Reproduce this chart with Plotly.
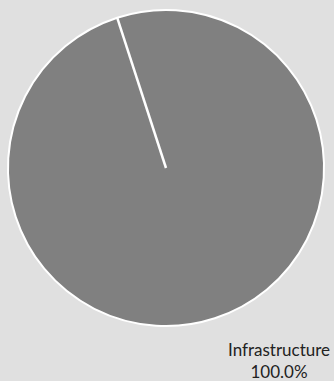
import math
import plotly.graph_objects as go

labels = ["Infrastructure"]
values = [100.0]
start_angle = -18  # degrees clockwise from 12 o'clock where the slice starts

fig = go.Figure(go.Pie(
    labels=labels,
    values=values,
    sort=False,
    rotation=start_angle,
    textinfo="none",
    hoverinfo="label+percent",
    marker=dict(colors=["#808080"], line=dict(color="#ffffff", width=2)),
    showlegend=False,
    domain=dict(x=[0, 1], y=[0, 1]),
))

# radial seam where the single slice starts and ends
theta = math.radians(start_angle)
fig.add_shape(
    type="line", xref="paper", yref="paper",
    x0=0.5, y0=0.5,
    x1=0.5 + 0.5 * math.sin(theta), y1=0.5 + 0.5 * math.cos(theta),
    line=dict(color="#ffffff", width=2.5),
)

total = sum(values)
fig.add_annotation(
    xref="paper", yref="paper", x=0.857, y=-0.108,
    xanchor="center", yanchor="middle",
    text=f"{labels[0]}<br>{values[0] / total * 100:.1f}%",
    showarrow=False, align="center",
    font=dict(family="Lato, 'Open Sans', sans-serif", size=17, color="#222222"),
)

fig.update_layout(
    width=334, height=381,
    margin=dict(l=8, r=10, t=10, b=55),
    paper_bgcolor="#e0e0e0",
    plot_bgcolor="#e0e0e0",
)

fig.write_html(
    "out.html",
    config={"displayModeBar": False},
    post_script="document.body.style.margin='0';document.body.style.overflow='hidden';",
)
